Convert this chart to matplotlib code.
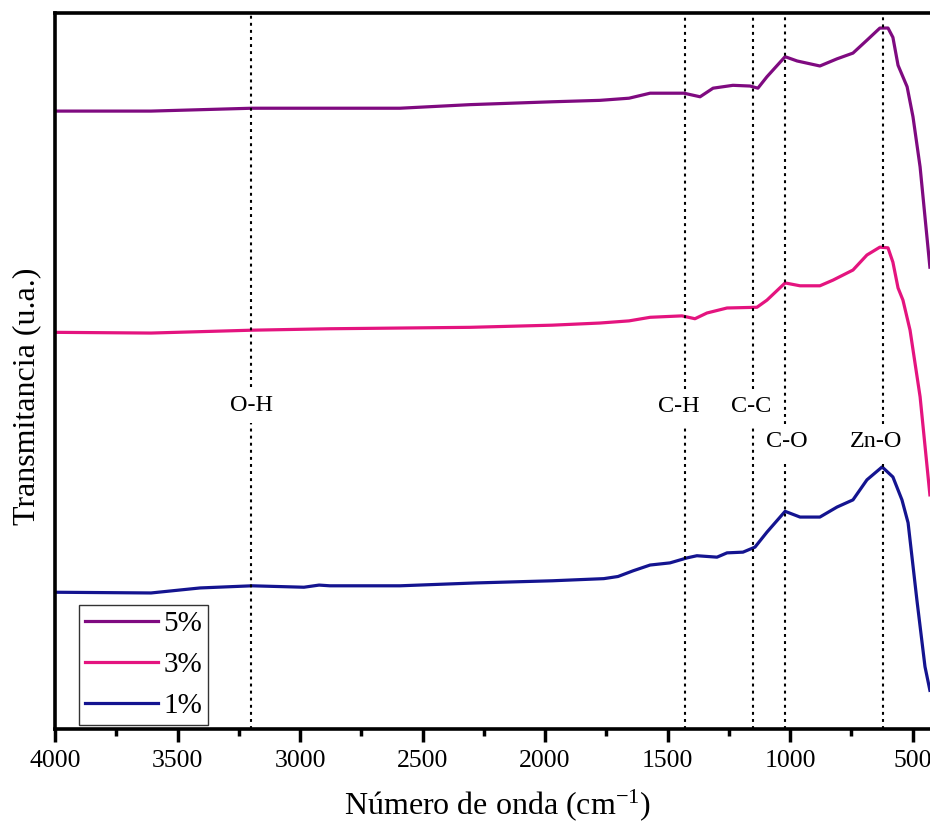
import matplotlib
matplotlib.use("Agg")
import matplotlib.pyplot as plt
from matplotlib.ticker import MultipleLocator

plt.rcParams['font.family'] = ['Liberation Serif', 'DejaVu Serif']
plt.rcParams['mathtext.fontset'] = 'custom'
plt.rcParams['mathtext.rm'] = 'Liberation Serif'
plt.rcParams['mathtext.it'] = 'Liberation Serif:italic'

# ---- data (wavenumber cm^-1, transmittance a.u.) ----
wn_5 = [4000, 3608, 3196, 2878, 2592, 2306, 1971, 1776, 1657, 1571, 1433, 1367,
        1314, 1233, 1163, 1131, 1094, 1020, 971, 878, 808, 743, 686, 633, 600,
        580, 559, 522, 498, 469, 449, 429]
t_5 = [86.3, 86.3, 86.7, 86.7, 86.7, 87.2, 87.6, 87.8, 88.1, 88.8, 88.8, 88.3,
       89.5, 89.9, 89.8, 89.5, 91.1, 93.9, 93.3, 92.6, 93.6, 94.4, 96.2, 97.9, 97.9,
       96.6, 92.7, 89.7, 85.5, 78.5, 71.5, 64.5]

wn_3 = [4000, 3608, 3196, 2878, 2306, 1971, 1776, 1657, 1571, 1441, 1388, 1339,
        1257, 1135, 1094, 1020, 959, 878, 824, 743, 686, 633, 600, 580, 559, 539,
        510, 469, 429]
t_3 = [55.4, 55.3, 55.7, 55.9, 56.1, 56.4, 56.7, 57.0, 57.5, 57.7, 57.3, 58.1,
       58.8, 58.9, 59.9, 62.3, 61.9, 61.9, 62.7, 64.1, 66.2, 67.3, 67.2, 65.2, 61.6, 59.9,
       55.7, 46.4, 32.7]

wn_1 = [4000, 3608, 3408, 3196, 2984, 2922, 2878, 2592, 2282, 1971, 1760, 1702, 1640,
        1571, 1490, 1420, 1380, 1298, 1257, 1192, 1143, 1094, 1020, 959, 878, 808, 743,
        686, 624, 580, 543, 518, 482, 449, 429]
t_1 = [19.1, 19.0, 19.7, 20.0, 19.8, 20.1, 20.0, 20.0, 20.4, 20.7, 21.0, 21.3, 22.1,
       22.9, 23.2, 23.9, 24.2, 24.0, 24.6, 24.7, 25.4, 27.5, 30.4, 29.6, 29.6, 31.0, 32.0,
       34.8, 36.6, 35.2, 32.0, 28.8, 18.0, 8.7, 5.4]

series_labels = ['5%', '3%', '1%']
series_colors = ['#7F0A80', '#E4147F', '#141490']

band_labels = ['O-H', 'C-H', 'C-C', 'C-O', 'Zn-O']
band_wn = [3200, 1430, 1150, 1020, 620]
band_text_wn = [3196, 1453, 1159, 1012, 649]
band_text_y = [45.2, 45.0, 45.0, 40.1, 40.1]

xticks_major = [4000, 3500, 3000, 2500, 2000, 1500, 1000, 500]
xtick_labels = ['4000', '3500', '3000', '2500', '2000', '1500', '1000', '500']

SERIF = ['Liberation Serif', 'DejaVu Serif']

# ---- figure ----
fig = plt.figure(figsize=(9.3, 8.22), dpi=100)
ax = fig.add_axes([55/930, 1-729/822, (937-55)/930, (729-13)/822])

for wn, t, lab, col in zip([wn_5, wn_3, wn_1], [t_5, t_3, t_1], series_labels, series_colors):
    ax.plot(wn, t, color=col, lw=2.3, label=lab, solid_joinstyle='round')

for w, tw, ty, lab in zip(band_wn, band_text_wn, band_text_y, band_labels):
    ax.plot([w, w], [0, ty - 2.5], color='black', lw=1.5, ls=(0, (1.4, 2.0)))
    ax.plot([w, w], [ty + 2.5, 100], color='black', lw=1.5, ls=(0, (1.4, 2.0)))
    ax.text(tw, ty, lab, ha='center', va='center', fontsize=17.5, family=SERIF)

ax.set_xlim(4000, 400)
ax.set_ylim(0, 100)
ax.set_xticks(xticks_major)
ax.set_xticklabels(xtick_labels, fontsize=18.5, family=SERIF)
ax.xaxis.set_minor_locator(MultipleLocator(250))
ax.set_yticks([])
ax.tick_params(axis='x', which='major', direction='out', length=9, width=2.5, pad=6)
ax.tick_params(axis='x', which='minor', direction='out', length=5, width=2.5)
for s in ax.spines.values():
    s.set_linewidth(2.6)

leg = ax.legend(loc='lower left', bbox_to_anchor=((79-55)/882, (729-725)/716),
                borderaxespad=0, prop={'family': SERIF, 'size': 21},
                handlelength=2.5, handletextpad=0.2,
                borderpad=0.2, labelspacing=0.5, fancybox=False, framealpha=1,
                edgecolor='#333333')
leg.get_frame().set_linewidth(1.0)

fig.text(27/930, 1-396/822, 'Transmitancia (u.a.)', rotation=90, ha='center',
         va='center', fontsize=23, family=SERIF)
fig.text(498/930, 1-805/822, 'Número de onda (cm$^{\\mathrm{-1}}$)', ha='center',
         va='center', fontsize=23, family=SERIF)

fig.savefig('out.png', dpi=100)
